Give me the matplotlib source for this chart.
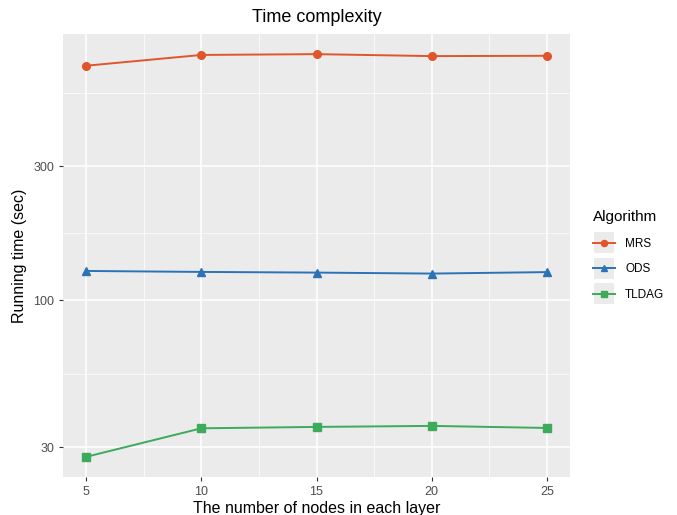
import matplotlib
matplotlib.use("Agg")
import matplotlib.pyplot as plt
import numpy as np
from matplotlib.legend_handler import HandlerLine2D
from matplotlib.patches import Rectangle

plt.rcParams["font.family"] = ["Liberation Sans", "DejaVu Sans"]

nodes = [5, 10, 15, 20, 25]
mrs = [682, 745, 750, 738, 740]
ods = [127.0, 126.0, 125.3, 124.3, 125.8]
tldag = [27.7, 35.0, 35.4, 35.7, 35.1]

series = [
    ("MRS", mrs, "#E0552A", "o"),
    ("ODS", ods, "#2B72B6", "^"),
    ("TLDAG", tldag, "#3DAA5C", "s"),
]

y_breaks = [30, 100, 300]
x_breaks = [5, 10, 15, 20, 25]


class KeyHandler(HandlerLine2D):
    """Line key drawn on a grey ggplot-style key square."""

    def create_artists(self, legend, orig_handle, xdescent, ydescent,
                       width, height, fontsize, trans):
        side = height + 9
        bg = Rectangle((-xdescent + (width - side) / 2, -ydescent + (height - side) / 2),
                       side, side, facecolor="#EBEBEB", edgecolor="none",
                       transform=trans)
        arts = super().create_artists(legend, orig_handle, xdescent, ydescent,
                                      width, height, fontsize, trans)
        return [bg] + list(arts)


fig = plt.figure(figsize=(6.77, 5.15), dpi=100)
ax = fig.add_axes([63 / 677, 1 - 477 / 515, (570 - 63) / 677, (477 - 34) / 515])
ax.set_facecolor("#EBEBEB")

for name, vals, col, mk in series:
    ax.plot(nodes, vals, color=col, linewidth=1.4, marker=mk, markersize=5.5,
            label=name, zorder=3)

ax.set_yscale("log")
lo, hi = np.log10(min(tldag)), np.log10(max(mrs))
pad = 0.05 * (hi - lo)
ax.set_ylim(10 ** (lo - pad), 10 ** (hi + pad))
ax.set_xlim(5 - 0.05 * 20, 25 + 0.05 * 20)

ax.set_yticks(y_breaks)
ax.set_yticklabels([str(b) for b in y_breaks])
ax.yaxis.set_minor_locator(matplotlib.ticker.NullLocator())
ax.set_xticks(x_breaks)
ax.set_xticklabels([str(b) for b in x_breaks])

# ggplot-like grid: majors plus midpoint minors
for b in y_breaks:
    ax.axhline(b, color="white", linewidth=1.1, zorder=1)
for m in [np.sqrt(30 * 100), np.sqrt(100 * 300), np.sqrt(300 * 1000)]:
    ax.axhline(m, color="white", linewidth=0.5, zorder=1)
for b in x_breaks:
    ax.axvline(b, color="white", linewidth=1.1, zorder=1)
for m in [7.5, 12.5, 17.5, 22.5]:
    ax.axvline(m, color="white", linewidth=0.5, zorder=1)

for s in ax.spines.values():
    s.set_visible(False)
ax.tick_params(axis="both", colors="#333333", labelcolor="#4D4D4D",
               labelsize=9, length=3, width=0.8)

ax.set_xlabel("The number of nodes in each layer", fontsize=11.5, labelpad=2)
ax.set_ylabel("Running time (sec)", fontsize=11.5, labelpad=4)
fig.text((63 + 570) / 2 / 677, 1 - 17 / 515, "Time complexity", ha="center",
         va="center", fontsize=13)

leg = ax.legend(loc="center left", bbox_to_anchor=(1.025, 0.5), frameon=False,
                title="Algorithm", fontsize=8.5, title_fontsize=11,
                handlelength=1.8, handletextpad=0.9, labelspacing=1.15,
                borderaxespad=0.5, markerscale=0.8,
                handler_map={plt.Line2D: KeyHandler()})
leg._legend_box.align = "left"

fig.savefig("out.png", dpi=100)
